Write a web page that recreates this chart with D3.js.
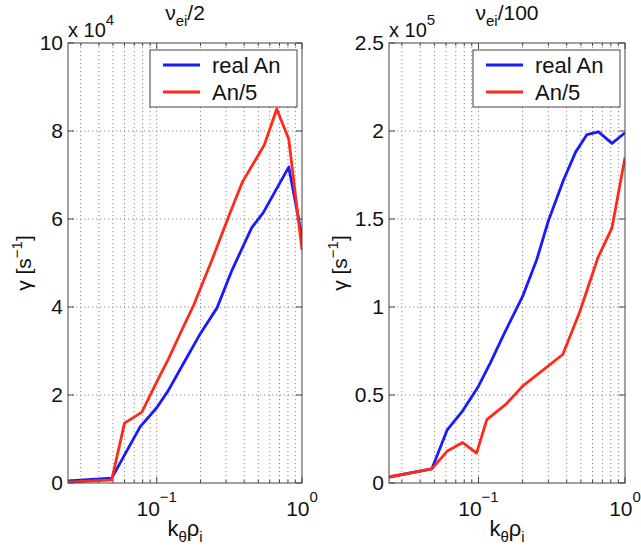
<!DOCTYPE html>
<html><head><meta charset="utf-8">
<script src="https://cdn.jsdelivr.net/npm/d3@7"></script>
<style>
html,body{margin:0;padding:0;background:#fff;}
text{font-family:"Liberation Sans",Arial,Helvetica,sans-serif;fill:#111;}
</style></head>
<body><svg id="chart" width="641" height="550"></svg>
<script>
// ---- data ----
const seriesNames = ["real An", "An/5"];
const panelTitles = ["ei/2", "ei/100"];
const panelExponents = ["4", "5"];
// left panel (nu_ei/2), gamma in units of 1e4 s^-1
const leftBlueK = [0.0245, 0.049, 0.077, 0.1, 0.12, 0.15, 0.2, 0.26, 0.33, 0.45, 0.54, 0.81, 1.0];
const leftBlueV = [0.05, 0.11, 1.28, 1.71, 2.1, 2.67, 3.4, 3.98, 4.84, 5.8, 6.14, 7.18, 5.6];
const leftRedK  = [0.0245, 0.049, 0.06, 0.079, 0.1, 0.12, 0.15, 0.18, 0.24, 0.32, 0.39, 0.55, 0.67, 0.81, 1.0];
const leftRedV  = [0.02, 0.07, 1.36, 1.61, 2.3, 2.81, 3.5, 4.05, 5.07, 6.14, 6.85, 7.68, 8.5, 7.82, 5.3];
// right panel (nu_ei/100), gamma in units of 1e5 s^-1
const rightBlueK = [0.0245, 0.048, 0.061, 0.078, 0.1, 0.12, 0.15, 0.2, 0.25, 0.3, 0.38, 0.46, 0.55, 0.66, 0.815, 1.0];
const rightBlueV = [0.034, 0.08, 0.30, 0.41, 0.55, 0.68, 0.85, 1.06, 1.27, 1.49, 1.72, 1.88, 1.98, 1.995, 1.93, 1.99];
const rightRedK  = [0.0245, 0.048, 0.061, 0.078, 0.097, 0.114, 0.155, 0.2, 0.274, 0.376, 0.49, 0.653, 0.815, 1.0];
const rightRedV  = [0.034, 0.08, 0.18, 0.23, 0.17, 0.36, 0.45, 0.55, 0.64, 0.73, 0.97, 1.28, 1.45, 1.85];
// ticks
const xDomain = [0.0245, 1];
const xMajorTicks = [0.1, 1];
const xMajorLabels = ["\u22121", "0"];
const xMinorTicks = [0.03, 0.04, 0.05, 0.06, 0.07, 0.08, 0.09, 0.2, 0.3, 0.4, 0.5, 0.6, 0.7, 0.8, 0.9];
const leftYTicks = [0, 2, 4, 6, 8, 10];
const leftYLabels = ["0", "2", "4", "6", "8", "10"];
const rightYTicks = [0, 0.5, 1, 1.5, 2, 2.5];
const rightYLabels = ["0", "0.5", "1", "1.5", "2", "2.5"];

const colors = ["#1a1aff", "#ff2a1a"];

const panels = [
  {x0: 68, x1: 302, yMax: 10, yTicks: leftYTicks, yLabels: leftYLabels,
   series: [{k: leftBlueK, v: leftBlueV}, {k: leftRedK, v: leftRedV}],
   title: panelTitles[0], exp: panelExponents[0], ylabX: 31},
  {x0: 389, x1: 625, yMax: 2.5, yTicks: rightYTicks, yLabels: rightYLabels,
   series: [{k: rightBlueK, v: rightBlueV}, {k: rightRedK, v: rightRedV}],
   title: panelTitles[1], exp: panelExponents[1], ylabX: 347}
];

const svg = d3.select("#chart");
const yTop = 43, yBot = 483;
const axisColor = "#444";

panels.forEach((p, pi) => {
  const x = d3.scaleLog().domain(xDomain).range([p.x0, p.x1]);
  const y = d3.scaleLinear().domain([0, p.yMax]).range([yBot, yTop]);
  const g = svg.append("g");

  // grid
  const allX = xMinorTicks.concat(xMajorTicks).filter(v => v < 1);
  g.selectAll(".vg").data(allX).enter().append("line")
    .attr("x1", d => x(d)).attr("x2", d => x(d)).attr("y1", yTop).attr("y2", yBot)
    .attr("stroke", "#8a8a8a").attr("stroke-width", 1).attr("stroke-dasharray", "1.2,2.8");
  g.selectAll(".hg").data(p.yTicks.filter(v => v > 0 && v < p.yMax)).enter().append("line")
    .attr("x1", p.x0).attr("x2", p.x1).attr("y1", d => y(d)).attr("y2", d => y(d))
    .attr("stroke", "#8a8a8a").attr("stroke-width", 1).attr("stroke-dasharray", "1.2,2.8");

  // ticks (inward, all sides)
  const tk = [];
  xMajorTicks.forEach(v => { tk.push([x(v), yBot, x(v), yBot - 6]); tk.push([x(v), yTop, x(v), yTop + 6]); });
  xMinorTicks.forEach(v => { tk.push([x(v), yBot, x(v), yBot - 3]); tk.push([x(v), yTop, x(v), yTop + 3]); });
  p.yTicks.forEach(v => { tk.push([p.x0, y(v), p.x0 + 6, y(v)]); tk.push([p.x1, y(v), p.x1 - 6, y(v)]); });
  g.selectAll(".tk").data(tk).enter().append("line")
    .attr("x1", d => d[0]).attr("y1", d => d[1]).attr("x2", d => d[2]).attr("y2", d => d[3])
    .attr("stroke", axisColor).attr("stroke-width", 1);

  // clip
  const cid = "clip" + pi;
  svg.append("defs").append("clipPath").attr("id", cid).append("rect")
    .attr("x", p.x0).attr("y", yTop).attr("width", p.x1 - p.x0).attr("height", yBot - yTop);

  const line = d3.line().x(d => x(d[0])).y(d => y(d[1]));
  p.series.forEach((s, si) => {
    const pts = s.k.map((k, i) => [k, s.v[i]]);
    g.append("path").datum(pts).attr("d", line).attr("fill", "none")
      .attr("stroke", colors[si]).attr("stroke-width", 2.8)
      .attr("stroke-linejoin", "round").attr("clip-path", `url(#${cid})`);
  });

  // box
  g.append("rect").attr("x", p.x0).attr("y", yTop).attr("width", p.x1 - p.x0).attr("height", yBot - yTop)
    .attr("fill", "none").attr("stroke", axisColor).attr("stroke-width", 1);

  // y tick labels
  g.selectAll(".yl").data(p.yTicks).enter().append("text")
    .attr("x", p.x0 - 5).attr("y", d => y(d) + 7).attr("text-anchor", "end")
    .attr("font-size", 21).text((d, i) => p.yLabels[i]);

  // x tick labels 10^e
  xMajorTicks.forEach((v, i) => {
    const t = g.append("text").attr("x", x(v)).attr("y", 516).attr("text-anchor", "middle").attr("font-size", 21);
    t.append("tspan").text("10");
    t.append("tspan").attr("dy", -14).attr("font-size", 15).text(xMajorLabels[i]);
  });

  // exponent label
  const e = g.append("text").attr("x", p.x0).attr("y", 37).attr("font-size", 20);
  e.append("tspan").text("x 10");
  e.append("tspan").attr("dy", -12).attr("font-size", 15).text(p.exp);

  // title
  const cx = (p.x0 + p.x1) / 2;
  const t = g.append("text").attr("x", cx).attr("y", 20).attr("text-anchor", "middle").attr("font-size", 21);
  t.append("tspan").text("\u03bd");
  t.append("tspan").attr("dy", 6).attr("font-size", 15).text(p.title.split("/")[0]);
  t.append("tspan").attr("dy", -6).text("/" + p.title.split("/")[1]);

  // x label
  const xl = g.append("text").attr("x", cx).attr("y", 536).attr("text-anchor", "middle").attr("font-size", 22);
  xl.append("tspan").text("k");
  xl.append("tspan").attr("dy", 6).attr("font-size", 15).text("\u03b8");
  xl.append("tspan").attr("dy", -6).text("\u03c1");
  xl.append("tspan").attr("dy", 6).attr("font-size", 15).text("i");

  // y label
  const yl = g.append("text").attr("transform", `translate(${p.ylabX},263) rotate(-90)`)
    .attr("text-anchor", "middle").attr("font-size", 21);
  yl.append("tspan").text("\u03b3 [s");
  yl.append("tspan").attr("dy", -9).attr("font-size", 15).text("\u22121");
  yl.append("tspan").attr("dy", 9).text("]");

  // legend
  const lx = p.x1 - 152, ly = 50;
  g.append("rect").attr("x", lx).attr("y", ly).attr("width", 147).attr("height", 57)
    .attr("fill", "#fff").attr("stroke", axisColor).attr("stroke-width", 1);
  seriesNames.forEach((n, i) => {
    const yy = ly + 15 + i * 27;
    g.append("line").attr("x1", lx + 13).attr("x2", lx + 50).attr("y1", yy).attr("y2", yy)
      .attr("stroke", colors[i]).attr("stroke-width", 2.8);
    g.append("text").attr("x", lx + 62).attr("y", yy + 8).attr("font-size", 22).text(n);
  });
});
</script></body></html>
